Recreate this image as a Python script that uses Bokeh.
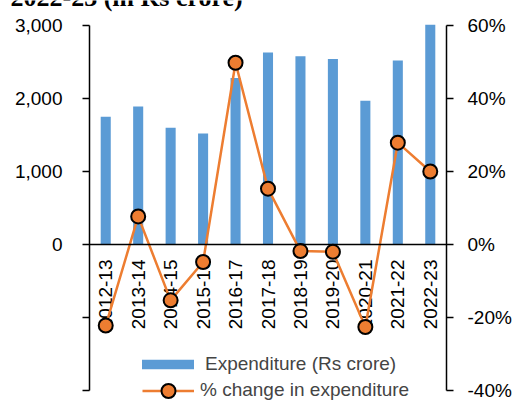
from math import pi
from bokeh.plotting import figure
from bokeh.models import (Range1d, LinearAxis, FixedTicker, Legend, LegendItem,
                          Label, ColumnDataSource)
from bokeh.core.properties import value
from bokeh.embed import file_html
from bokeh.resources import INLINE

years = ["2012-13", "2013-14", "2014-15", "2015-16", "2016-17", "2017-18",
         "2018-19", "2019-20", "2020-21", "2021-22", "2022-23"]
expenditure = [1750, 1890, 1600, 1520, 2280, 2630, 2580, 2540, 1970, 2520, 3010]
pct_change = [-22.2, 7.7, -15.3, -4.8, 49.8, 15.3, -1.8, -2.0, -22.6, 27.9, 20.0]
left_ticks = [-2000, -1000, 0, 1000, 2000, 3000]
left_tick_labels = ["", "", "0", "1,000", "2,000", "3,000"]
right_ticks = [-40, -20, 0, 20, 40, 60]
right_tick_labels = ["-40%", "-20%", "0%", "20%", "40%", "60%"]
title_text = "2022-23 (in Rs crore)"
bar_label = "Expenditure (Rs crore)"
line_label = "% change in expenditure"

BLUE = "#5B9BD5"
ORANGE = "#ED7D31"
FONT = "Liberation Sans"

# layout (pixels): plot area x 89..446, y 25..390 inside a 514x401 canvas
W, H = 514, 401
px_left, px_right, px_top, px_bottom = 89, 446, 25, 390
n = len(years)
x_per_px = n / (px_right - px_left)
left_lo, left_hi = min(left_ticks), max(left_ticks)
right_lo, right_hi = min(right_ticks), max(right_ticks)


def y_range_for(lo, hi):
    per_px = (hi - lo) / (px_bottom - px_top)
    return Range1d(lo - (H - px_bottom) * per_px, hi + px_top * per_px)


x_pos = [i + 0.5 for i in range(n)]
src = ColumnDataSource(dict(x=x_pos, year=years, exp=expenditure, pct=pct_change,
                            zero=[0] * n))

p = figure(x_range=Range1d(-px_left * x_per_px, n + (W - px_right) * x_per_px),
           y_range=y_range_for(left_lo, left_hi),
           width=W, height=H, output_backend="svg", toolbar_location=None,
           x_axis_location=None, y_axis_location=None,
           min_border_left=0, min_border_right=0, min_border_top=0,
           min_border_bottom=0)
p.extra_y_ranges = {"pct": y_range_for(right_lo, right_hi)}
p.outline_line_color = None
p.grid.visible = False
p.background_fill_color = "white"
p.border_fill_color = "white"

left = LinearAxis(fixed_location=0, bounds=(left_lo, left_hi),
                  ticker=FixedTicker(ticks=left_ticks),
                  major_label_overrides=dict(zip(left_ticks, left_tick_labels)))
right = LinearAxis(y_range_name="pct", fixed_location=n, bounds=(right_lo, right_hi),
                   ticker=FixedTicker(ticks=right_ticks),
                   major_label_overrides=dict(zip(right_ticks, right_tick_labels)))
bottom = LinearAxis(fixed_location=0, bounds=(0, n), ticker=FixedTicker(ticks=[]),
                    major_label_text_font_size="0px")
p.add_layout(left, "left")
p.add_layout(right, "right")
p.add_layout(bottom, "below")

for ax in (left, right, bottom):
    ax.axis_line_color = "black"
    ax.axis_line_width = 1.5
    ax.major_tick_line_color = "black"
    ax.major_tick_line_width = 1.5
    ax.major_tick_out = 7
    ax.major_tick_in = 0
    ax.minor_tick_line_color = None
    ax.major_label_text_font = FONT
    ax.major_label_text_color = "black"
left.major_label_text_font_size = "19px"
right.major_label_text_font_size = "19px"
left.major_label_standoff = 20
right.major_label_standoff = 14

bars = p.vbar(x="x", top="exp", width=0.31, source=src,
              fill_color=BLUE, line_color=None)

p.text(x="x", y="zero", text="year", source=src, angle=pi / 2,
       text_align="right", text_baseline="middle", y_offset=15,
       text_font=value(FONT), text_font_size=value("19px"), text_color="black")

line = p.line(x="x", y="pct", source=src, y_range_name="pct",
              line_color=ORANGE, line_width=2.5)
marks = p.scatter(x="x", y="pct", source=src, y_range_name="pct", size=14,
                  fill_color=ORANGE, line_color="black", line_width=2)

leg1 = Legend(items=[LegendItem(label=bar_label, renderers=[bars])],
              location=(135, 26), glyph_width=65, glyph_height=12,
              padding=0, margin=0, border_line_color=None,
              background_fill_alpha=0, label_text_font=FONT,
              label_text_font_size="19px", label_standoff=5)
leg2 = Legend(items=[LegendItem(label=line_label, renderers=[line, marks])],
              location=(142, -6.5), glyph_width=52, glyph_height=35,
              padding=0, margin=0, border_line_color=None,
              background_fill_alpha=0, label_text_font=FONT,
              label_text_font_size="19px", label_standoff=6)
p.add_layout(leg1, "center")
p.add_layout(leg2, "center")

p.add_layout(Label(x=10, y=-3, x_units="canvas", y_units="canvas", text=title_text,
                   text_font="Liberation Serif", text_font_style="bold",
                   text_font_size="26px", text_baseline="alphabetic",
                   text_color="black"))

open("out.html", "w").write(file_html(p, INLINE))
